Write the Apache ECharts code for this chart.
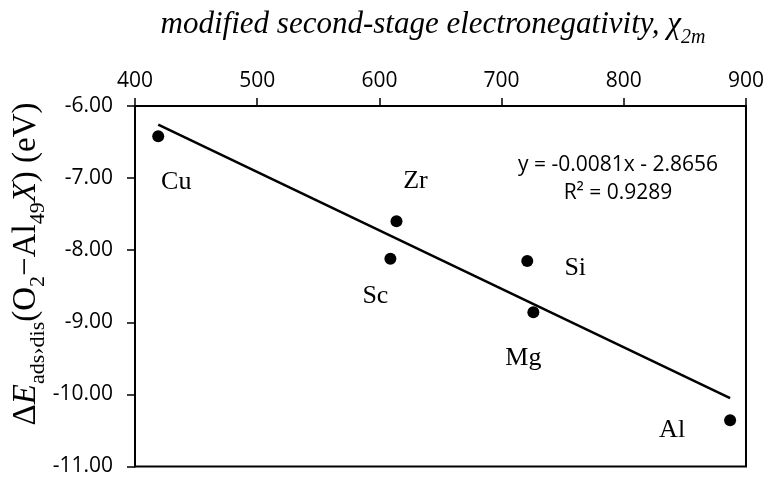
<!DOCTYPE html>
<html>
<head>
<meta charset="utf-8">
<script src="https://cdn.jsdelivr.net/npm/echarts@6/dist/echarts.min.js"></script>
<style>
  html, body { margin: 0; padding: 0; background: #fff; }
  #chart { width: 767px; height: 477px; }
</style>
</head>
<body>
<div id="chart"></div>
<script>
// Dopant elements and their values
const elements = ['Cu', 'Zr', 'Sc', 'Si', 'Mg', 'Al'];
const chi2m = [419, 614, 609, 721, 726, 887];                   // modified second-stage electronegativity
const adsEnergy = [-6.42, -7.60, -8.12, -8.15, -8.86, -10.36];  // ΔE ads,dis (eV)

// Linear fit shown on the plot
const fitSlope = -0.0081;
const fitIntercept = -2.8656;
const fitR2 = 0.9289;

// Axis tick settings
const xTicks = { min: 400, max: 900, step: 100 };
const yTicks = { min: -11, max: -6, step: 1 };

// Where each element label sits relative to its point (px)
const labelShift = {
  Cu: [18, 46], Zr: [19, -40], Sc: [-15, 37],
  Si: [48, 7], Mg: [-10, 46], Al: [-58, 10]
};

const serif = '"Liberation Serif", "Times New Roman", serif';
const sans = '"Open Sans", sans-serif';

const points = elements.map((name, i) => ({
  name: name,
  value: [chi2m[i], adsEnergy[i]],
  label: { offset: labelShift[name] }
}));

const xLo = Math.min(...chi2m), xHi = Math.max(...chi2m);
const fitLine = [
  [xLo, fitSlope * xLo + fitIntercept],
  [xHi, fitSlope * xHi + fitIntercept]
];

const chart = echarts.init(document.getElementById('chart'), null, { renderer: 'canvas' });

chart.setOption({
  animation: false,
  backgroundColor: '#fff',
  grid: {
    left: 135, top: 106, right: 19, bottom: 7,
    show: true, borderColor: '#000', borderWidth: 2, backgroundColor: 'transparent'
  },
  xAxis: {
    type: 'value', position: 'top',
    min: xTicks.min, max: xTicks.max, interval: xTicks.step,
    axisLine: { show: true, lineStyle: { color: '#000', width: 2 } },
    axisTick: { show: true, inside: false, length: 8, lineStyle: { color: '#000', width: 1.5 } },
    axisLabel: { color: '#000', fontFamily: sans, fontSize: 21, margin: 14 },
    splitLine: { show: false }
  },
  yAxis: {
    type: 'value',
    min: yTicks.min, max: yTicks.max, interval: yTicks.step,
    axisLine: { show: true, lineStyle: { color: '#000', width: 2 } },
    axisTick: { show: true, inside: false, length: 8, lineStyle: { color: '#000', width: 1.5 } },
    axisLabel: {
      color: '#000', fontFamily: sans, fontSize: 21, margin: 22,
      formatter: v => v.toFixed(2)
    },
    splitLine: { show: false }
  },
  series: [
    {
      type: 'line',
      data: fitLine,
      symbol: 'none',
      lineStyle: { color: '#000', width: 2.5 },
      silent: true,
      z: 2
    },
    {
      type: 'scatter',
      data: points,
      symbol: 'circle',
      symbolSize: 12,
      itemStyle: { color: '#000', opacity: 1 },
      label: {
        show: true,
        position: 'inside',
        formatter: '{b}',
        color: '#000',
        fontFamily: serif,
        fontSize: 26
      },
      z: 3
    }
  ],
  graphic: [
    {
      type: 'text',
      x: 433, y: 25,
      style: {
        text: '{t|modified second-stage electronegativity, χ}{s|2m}',
        align: 'center', verticalAlign: 'middle',
        rich: {
          t: { fontFamily: serif, fontStyle: 'italic', fontSize: 31, lineHeight: 46, verticalAlign: 'middle', fill: '#000' },
          s: { fontFamily: serif, fontStyle: 'italic', fontSize: 20, lineHeight: 20, verticalAlign: 'bottom', fill: '#000' }
        }
      }
    },
    {
      type: 'text',
      x: 26, y: 264,
      rotation: Math.PI / 2,
      style: {
        text: '{n|Δ}{i|E}{s|ads›dis}{n|(O}{s|2}{n|−Al}{s|49}{i|X}{n|) (eV)}',
        align: 'center', verticalAlign: 'middle',
        rich: {
          n: { fontFamily: serif, fontSize: 33, lineHeight: 47, verticalAlign: 'middle', fill: '#000' },
          i: { fontFamily: serif, fontStyle: 'italic', fontSize: 33, lineHeight: 47, verticalAlign: 'middle', fill: '#000' },
          s: { fontFamily: serif, fontSize: 22, lineHeight: 22, verticalAlign: 'bottom', fill: '#000' }
        }
      }
    },
    {
      type: 'text',
      x: 618, y: 179,
      style: {
        text: 'y = ' + fitSlope.toFixed(4) + 'x - ' + Math.abs(fitIntercept).toFixed(4) + '\nR² = ' + fitR2.toFixed(4),
        align: 'center', verticalAlign: 'middle',
        fontFamily: sans, fontSize: 21, lineHeight: 28, fill: '#000'
      }
    }
  ]
});
</script>
</body>
</html>
